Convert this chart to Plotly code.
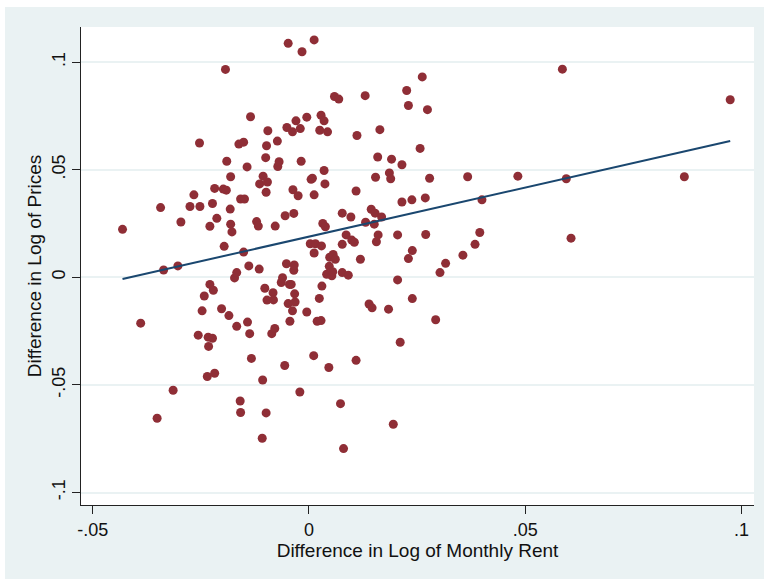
import numpy as np
import plotly.graph_objects as go

# Difference in Log of Monthly Rent (x) and Difference in Log of Prices (y)
rent_diff = [
    -0.0431, -0.0389, -0.0351, -0.0343, -0.0336, -0.0314, -0.0303, -0.0296, -0.0275, -0.0266,
    -0.0256, -0.0253, -0.0252, -0.0247, -0.0242, -0.0235, -0.0233, -0.0232, -0.0229, -0.0229,
    -0.0223, -0.0223, -0.0221, -0.0218, -0.0218, -0.0213, -0.0202, -0.0198, -0.0196, -0.0193,
    -0.0191, -0.0190, -0.0185, -0.0182, -0.0181, -0.0181, -0.0178, -0.0172, -0.0167, -0.0167,
    -0.0162, -0.0159, -0.0158, -0.0158, -0.0151, -0.0151, -0.0149, -0.0143, -0.0142, -0.0139,
    -0.0137, -0.0135, -0.0133, -0.0121, -0.0117, -0.0115, -0.0114, -0.0107, -0.0108, -0.0106,
    -0.0102, -0.0100, -0.0099, -0.0099, -0.0098, -0.0097, -0.0096, -0.0095, -0.0086, -0.0083,
    -0.0082, -0.0079, -0.0078, -0.0073, -0.0072, -0.0069, -0.0064, -0.0061, -0.0056, -0.0055,
    -0.0052, -0.0051, -0.0048, -0.0048, -0.0045, -0.0044, -0.0041, -0.0038, -0.0038, -0.0037,
    -0.0035, -0.0035, -0.0034, -0.0033, -0.0032, -0.0030, -0.0025, -0.0021, -0.0020, -0.0018,
    -0.0016, -0.0005, -0.0005, 0.0003, 0.0005, 0.0008, 0.0011, 0.0012, 0.0012, 0.0012,
    0.0015, 0.0019, 0.0024, 0.0025, 0.0028, 0.0029, 0.0028, 0.0030, 0.0032, 0.0035,
    0.0035, 0.0037, 0.0038, 0.0041, 0.0043, 0.0046, 0.0047, 0.0048, 0.0053, 0.0055,
    0.0056, 0.0059, 0.0061, 0.0069, 0.0073, 0.0077, 0.0077, 0.0077, 0.0080, 0.0086,
    0.0091, 0.0097, 0.0099, 0.0105, 0.0109, 0.0109, 0.0111, 0.0119, 0.0130, 0.0131,
    0.0139, 0.0144, 0.0146, 0.0151, 0.0153, 0.0154, 0.0156, 0.0159, 0.0160, 0.0164,
    0.0168, 0.0184, 0.0186, 0.0189, 0.0191, 0.0195, 0.0205, 0.0205, 0.0211, 0.0215,
    0.0215, 0.0226, 0.0230, 0.0230, 0.0238, 0.0239, 0.0239, 0.0257, 0.0262, 0.0269,
    0.0270, 0.0274, 0.0279, 0.0293, 0.0303, 0.0316, 0.0356, 0.0367, 0.0384, 0.0395,
    0.0400, 0.0483, 0.0586, 0.0595, 0.0606, 0.0868, 0.0974,
]
price_diff = [
    0.0223, -0.0213, -0.0655, 0.0324, 0.0034, -0.0525, 0.0053, 0.0257, 0.0329, 0.0383,
    -0.0269, 0.0624, 0.0329, -0.0156, -0.0087, -0.0461, -0.0278, -0.0321, 0.0237, -0.0033,
    -0.0283, 0.0343, -0.0060, 0.0413, -0.0446, 0.0274, -0.0146, 0.0410, 0.0144, 0.0966,
    0.0405, 0.0539, -0.0178, 0.0317, 0.0467, 0.0247, 0.0211, -0.0003, 0.0022, -0.0228,
    0.0619, -0.0575, -0.0628, 0.0364, 0.0117, 0.0628, 0.0364, 0.0513, -0.0208, 0.0053,
    -0.0262, 0.0746, -0.0377, 0.0259, 0.0238, 0.0038, 0.0434, -0.0477, -0.0748, 0.0470,
    -0.0051, 0.0556, -0.0630, 0.0395, 0.0611, -0.0106, 0.0443, 0.0681, -0.0262, -0.0072,
    -0.0105, -0.0238, 0.0238, 0.0633, 0.0515, 0.0537, -0.0024, -0.0002, -0.0410, 0.0286,
    0.0063, 0.0696, 0.1087, -0.0122, -0.0033, -0.0204, -0.0033, 0.0676, -0.0156, 0.0407,
    0.0297, 0.0033, 0.0057, -0.0077, -0.0115, 0.0727, 0.0379, -0.0533, 0.0691, 0.0539,
    0.1048, 0.0744, -0.0161, 0.0156, 0.0455, 0.0460, -0.0364, 0.0383, 0.1103, 0.0113,
    0.0156, -0.0204, -0.0098, 0.0683, -0.0201, 0.0146, 0.0753, -0.0041, 0.0250, 0.0727,
    0.0496, 0.0434, 0.0235, 0.0014, 0.0676, -0.0419, 0.0051, 0.0093, 0.0007, 0.0026,
    0.0106, 0.0840, 0.0084, 0.0828, -0.0587, 0.0153, 0.0298, 0.0022, -0.0796, 0.0197,
    0.0010, 0.0280, 0.0173, 0.0163, -0.0386, 0.0401, 0.0659, 0.0084, 0.0844, 0.0256,
    -0.0124, 0.0316, -0.0142, 0.0247, 0.0298, 0.0465, 0.0165, 0.0559, 0.0197, 0.0686,
    0.0280, -0.0148, 0.0485, 0.0458, 0.0549, -0.0683, -0.0012, 0.0197, -0.0302, 0.0523,
    0.0350, 0.0868, 0.0798, 0.0087, 0.0360, -0.0099, 0.0124, 0.0599, 0.0931, 0.0369,
    0.0199, 0.0779, 0.0460, -0.0197, 0.0022, 0.0065, 0.0103, 0.0467, 0.0153, 0.0208,
    0.0360, 0.0470, 0.0967, 0.0458, 0.0182, 0.0467, 0.0825,
]

x_ticks = [-0.05, 0, 0.05, 0.1]
x_tick_labels = ["-.05", "0", ".05", ".1"]
y_ticks = [-0.1, -0.05, 0, 0.05, 0.1]
y_tick_labels = ["-.1", "-.05", "0", ".05", ".1"]

x = np.array(rent_diff)
y = np.array(price_diff)
slope, intercept = np.polyfit(x, y, 1)
fit_x = np.array([x.min(), x.max()])
fit_y = intercept + slope * fit_x

BG = "#EAF2F3"
FONT = "Liberation Sans, Arial, sans-serif"

fig = go.Figure()
fig.add_trace(go.Scatter(
    x=x, y=y, mode="markers",
    marker=dict(color="#8F2E36", size=9, line=dict(width=0)),
    showlegend=False,
))
fig.add_trace(go.Scatter(
    x=fit_x, y=fit_y, mode="lines",
    line=dict(color="#1A476F", width=2),
    showlegend=False,
))

# thin white border strips along the top and left edges of the graph region
fig.add_shape(type="rect", xref="paper", yref="paper", x0=-0.2, x1=1.1, y0=1.0418, y1=1.07,
              fillcolor="white", line=dict(width=0), layer="above")
fig.add_shape(type="rect", xref="paper", yref="paper", x0=-0.2, x1=-0.1129, y0=-0.2, y1=1.07,
              fillcolor="white", line=dict(width=0), layer="above")

fig.update_layout(
    width=764, height=579,
    margin=dict(l=81, r=10, t=27, b=74),
    paper_bgcolor=BG,
    plot_bgcolor="white",
    font=dict(family=FONT, size=18, color="#111111"),
    xaxis=dict(
        range=[-0.0527, 0.1029],
        tickvals=x_ticks, ticktext=x_tick_labels,
        ticks="outside", ticklen=8, tickwidth=1, tickcolor="#222222",
        showline=True, linecolor="#222222", linewidth=1,
        showgrid=False, zeroline=False,
        title=dict(text="Difference in Log of Monthly Rent", font=dict(size=19), standoff=0),
        tickfont=dict(size=18),
    ),
    yaxis=dict(
        range=[-0.1058, 0.1163],
        tickvals=y_ticks, ticktext=y_tick_labels, tickangle=-90,
        ticks="outside", ticklen=8, tickwidth=1, tickcolor="#222222",
        showline=True, linecolor="#222222", linewidth=1,
        showgrid=True, gridcolor=BG, gridwidth=1.5, zeroline=False,
        title=dict(text="Difference in Log of Prices", font=dict(size=19), standoff=2),
        tickfont=dict(size=18),
    ),
)

fig.write_html("out.html")
